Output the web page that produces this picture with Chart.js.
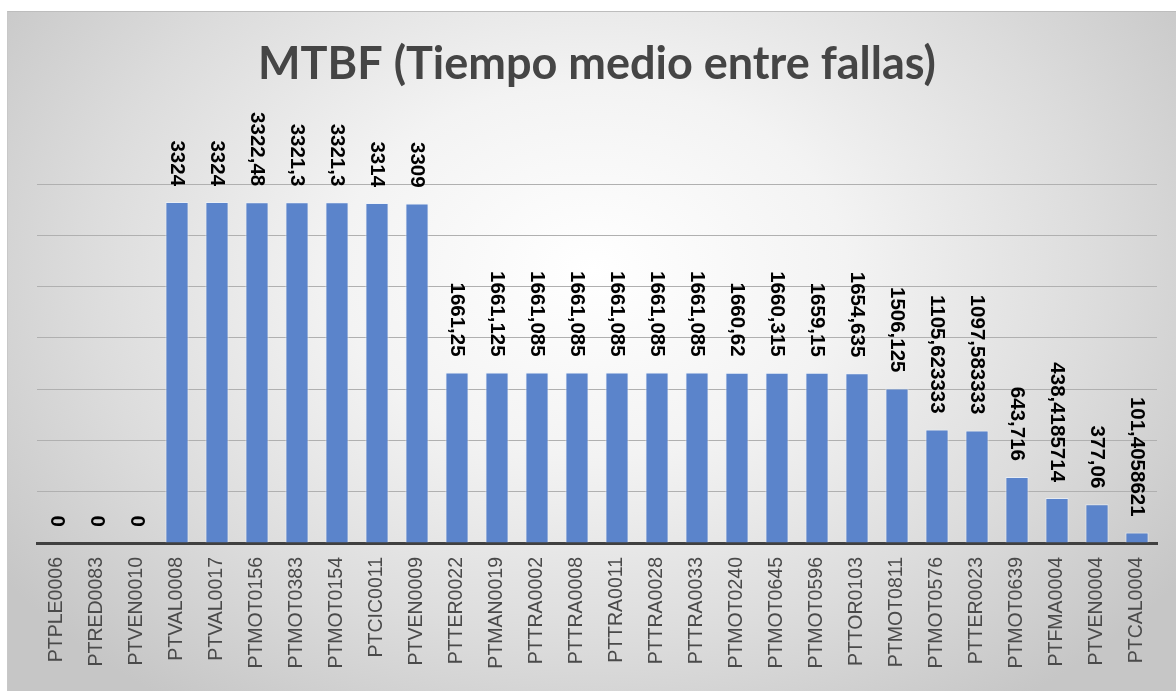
<!DOCTYPE html>
<html>
<head>
<meta charset="utf-8">
<script src="https://cdn.jsdelivr.net/npm/chart.js@4"></script>
<style>
  html, body { margin: 0; padding: 0; background: #ffffff; }
  #frame {
    position: absolute; left: 7px; top: 11px; width: 1169px; height: 680px;
    border-top: 1px solid #bdbdbd; border-left: 1px solid #c8c8c8;
    background: radial-gradient(ellipse 62% 78% at 50% 38%, #ffffff 0%, #f3f3f3 35%, #dcdcdc 70%, #c6c6c6 100%);
  }
  #wrap { position: absolute; left: 0; top: 0; width: 1176px; height: 691px; }
</style>
</head>
<body>
<div id="frame"></div>
<div id="wrap"><canvas id="mtbfChart" width="1176" height="691"></canvas></div>
<script>
// Datos
const equipos = [
    'PTPLE0006', 'PTRED0083', 'PTVEN0010', 'PTVAL0008', 'PTVAL0017', 'PTMOT0156', 'PTMOT0383',
    'PTMOT0154', 'PTCIC0011', 'PTVEN0009', 'PTTER0022', 'PTMAN0019', 'PTTRA0002', 'PTTRA0008',
    'PTTRA0011', 'PTTRA0028', 'PTTRA0033', 'PTMOT0240', 'PTMOT0645', 'PTMOT0596', 'PTTOR0103',
    'PTMOT0811', 'PTMOT0576', 'PTTER0023', 'PTMOT0639', 'PTFMA0004', 'PTVEN0004', 'PTCAL0004'
];
const mtbf = [
    0, 0, 0, 3324, 3324, 3322.48, 3321.3,
    3321.3, 3314, 3309, 1661.25, 1661.125, 1661.085, 1661.085,
    1661.085, 1661.085, 1661.085, 1660.62, 1660.315, 1659.15, 1654.635,
    1506.125, 1105.623333, 1097.583333, 643.716, 438.4185714, 377.06, 101.4058621
];
const yMax = 3500;
const yStep = 500;

// Etiquetas de datos verticales (leen de arriba hacia abajo)
const valueLabels = {
    id: 'valueLabels',
    afterDatasetsDraw(chart) {
        const ctx = chart.ctx;
        const meta = chart.getDatasetMeta(0);
        ctx.save();
        ctx.font = 'bold 20.5px "Liberation Sans"';
        ctx.fillStyle = '#000000';
        ctx.textAlign = 'right';
        ctx.textBaseline = 'middle';
        meta.data.forEach((bar, i) => {
            const txt = String(mtbf[i]).replace('.', ',');
            ctx.save();
            ctx.translate(bar.x, bar.y - 16);
            ctx.rotate(Math.PI / 2);
            ctx.fillText(txt, 0, 0);
            ctx.restore();
        });
        ctx.restore();
    }
};

const ctx = document.getElementById('mtbfChart').getContext('2d');
const mtbfChart = new Chart(ctx, {
    type: 'bar',
    data: {
        labels: equipos,
        datasets: [{
            data: mtbf,
            backgroundColor: '#5b84cb',
            borderColor: 'rgba(235, 242, 252, 0.7)',
            borderWidth: 1,
            categoryPercentage: 1,
            barPercentage: 0.58
        }]
    },
    options: {
        responsive: false,
        animation: false,
        layout: { padding: { left: 37, right: 19, top: 0, bottom: 0 } },
        plugins: {
            legend: { display: false },
            tooltip: { enabled: false },
            title: {
                display: true,
                text: 'MTBF (Tiempo medio entre fallas)',
                color: '#454545',
                font: { family: 'Lato', size: 45, weight: 'bold' },
                padding: { top: 37, bottom: 93 }
            }
        },
        scales: {
            x: {
                grid: { display: false, drawTicks: false },
                border: { display: true, color: '#404040', width: 3 },
                ticks: {
                    autoSkip: false,
                    minRotation: 90,
                    maxRotation: 90,
                    padding: 14,
                    color: '#4a4a4a',
                    font: { family: 'Liberation Sans', size: 19.5 }
                },
                afterFit(axis) { axis.height = 148; }
            },
            y: {
                min: 0,
                max: yMax,
                ticks: { display: false, stepSize: yStep },
                grid: { color: '#b0b0b0', lineWidth: 1, drawTicks: false },
                border: { display: false }
            }
        }
    },
    plugins: [valueLabels]
});
</script>
</body>
</html>
